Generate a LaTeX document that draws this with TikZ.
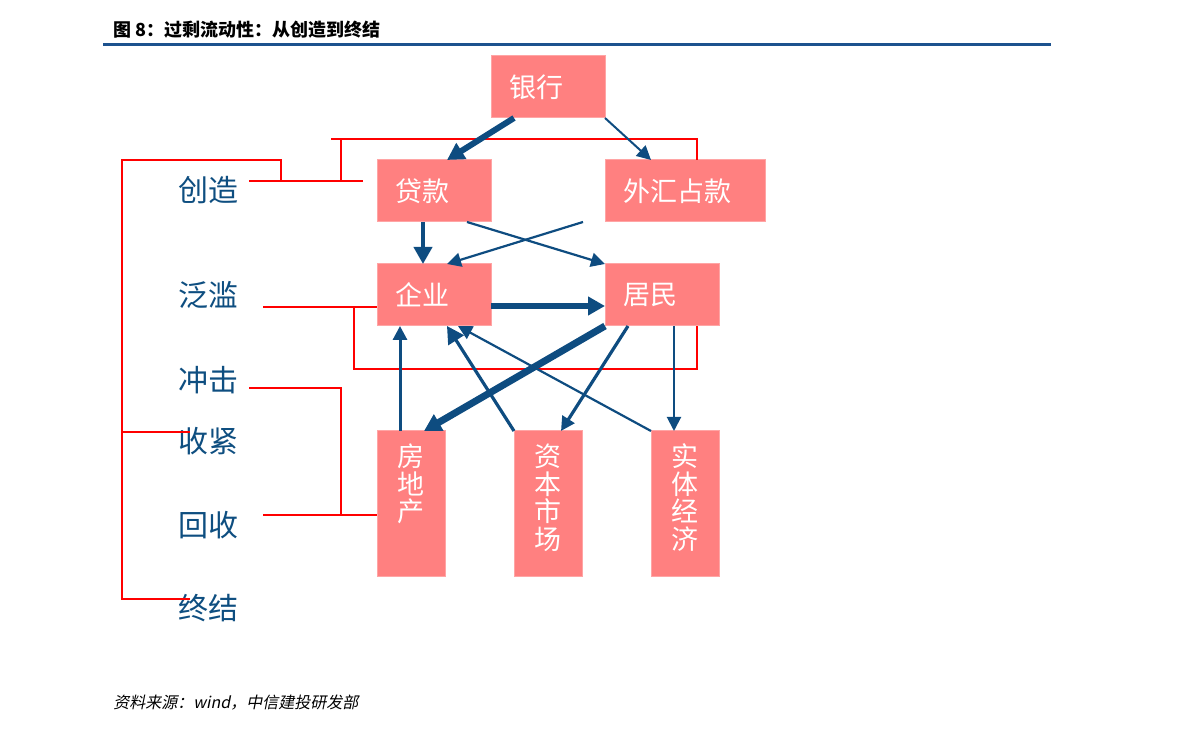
\documentclass[tikz,border=0pt]{standalone}
\usepackage{fontspec}
\setmainfont{Noto Sans CJK SC}
\newfontfamily\notefont[FakeSlant=0.2]{Noto Sans CJK SC}
\usepackage{xcolor}
\usepackage{tikz}
\usetikzlibrary{arrows.meta, positioning}
\definecolor{flowblue}{RGB}{14,76,128}
\definecolor{boxpink}{RGB}{255,128,128}
\definecolor{edgepink}{RGB}{255,165,165}
\definecolor{ruleblue}{RGB}{28,82,142}
\definecolor{stageblue}{RGB}{14,78,128}
\newcommand{\colstack}[1]{\parbox[c][60pt][t]{14pt}{\centering #1}}

\begin{document}
\begin{tikzpicture}[
    x=0.5pt, y=-0.5pt,
    box/.style={rectangle, fill=boxpink, draw=edgepink, line width=0.5pt, outer sep=0pt, text=white, font=\fontsize{13.5}{13.75}\selectfont},
    hbox/.style={box, text width=#1, inner xsep=9pt, inner ysep=0pt, minimum height=31pt, align=left},
    tallbox/.style={box, inner sep=0pt, minimum width=34pt, minimum height=73pt},
    stage/.style={anchor=west, inner sep=0pt, text=stageblue, font=\fontsize{15}{18}\selectfont},
    redline/.style={draw=red, line width=1pt},
    arrow/.style={draw=flowblue, line width=#1, -{Triangle[length=7pt, width=7pt]}},
    heavyarrow/.style={draw=flowblue, line width=#1, -{Triangle[length=8.5pt, width=9pt]}}
]
\useasboundingbox (0,0) rectangle (1191,732);

\node[anchor=west, inner sep=0pt, font=\fontsize{9}{11}\selectfont\bfseries] (title) at (113,30) {图 8：过剩流动性：从创造到终结};
\draw[ruleblue, line width=1.5pt] (103,45) -- (1051,45);

\node[hbox=39pt, anchor=north west] (loan) at (377,160) {贷款};
\node[hbox=62pt, right=57pt of loan] (fx) {外汇占款};
\node[hbox=39pt, above right=21pt and 0pt of loan.north east] (bank) {银行};
\node[hbox=39pt, below=21pt of loan] (firm) {企业};
\node[hbox=39pt, right=57pt of firm] (home) {居民};
\node[tallbox, below right=52.5pt and 0pt of firm.south west] (estate) {\colstack{房\\地\\产}};
\node[tallbox, right=34.5pt of estate] (capital) {\colstack{资\\本\\市\\场}};
\node[tallbox, right=34.5pt of capital] (econ) {\colstack{实\\体\\经\\济}};

\node[stage] (create) at (178,190) {创造};
\node[stage] (flood) at (178,295) {泛滥};
\node[stage] (shock) at (178,380) {冲击};
\node[stage] (tighten) at (178,441) {收紧};
\node[stage] (recover) at (178,525) {回收};
\node[stage] (finish) at (178,608) {终结};

\node[anchor=west, inner sep=0pt, font=\notefont\fontsize{8}{10}\selectfont] (source) at (113,703) {资料来源：wind，中信建投研发部};

\coordinate (createTip) at (249,181);
\coordinate (createJoin) at (281,181);
\coordinate (topbar) at (331,139);
\coordinate (spineTop) at (122,160);
\coordinate (tightenTip) at (190,432);
\coordinate (finishTip) at (190,599);
\coordinate (floodTip) at (263,307);
\coordinate (floodJoin) at (354,307);
\coordinate (shockTip) at (249,388);
\coordinate (shockJoin) at (341,388);
\coordinate (recoverTip) at (263,515);
\coordinate (fxDrop) at ([xshift=-34pt]fx.north east);

\draw[redline] (createTip) -- ([xshift=-7pt]loan.west |- createTip);
\draw[redline] (topbar) -- (topbar -| fxDrop) -- (fxDrop);
\draw[redline] ([xshift=5pt]topbar) -- ([xshift=5pt]topbar |- createTip);
\draw[redline] (createJoin) |- (spineTop) -- (spineTop |- finishTip) -- (finishTip);
\draw[redline] (spineTop |- tightenTip) -- (tightenTip);
\draw[redline] (floodTip) -- (firm.west |- floodTip);
\draw[redline] (floodJoin) -- ++(0,62) -| ([xshift=-11pt]home.south east);
\draw[redline] (shockTip) -- (shockJoin) -- (shockJoin |- recoverTip);
\draw[redline] (recoverTip) -- (estate.west |- recoverTip);

\draw[heavyarrow=3pt] ([xshift=11.5pt]bank.south west) -- ([xshift=-22pt]loan.north east);
\draw[arrow=1pt] (bank.south east) -- ([xshift=23pt]fx.north west);
\draw[heavyarrow=2pt] ([xshift=-5.5pt]loan.south) -- ([xshift=-5.5pt]firm.north);
\draw[arrow=1.1pt] ([xshift=-12pt]loan.south east) -- (home.north west);
\draw[arrow=1.1pt] ([xshift=-11pt]fx.south west) -- ([xshift=-22pt]firm.north east);
\draw[heavyarrow=3pt] ([yshift=-5.5pt]firm.east) -- ([yshift=-5.5pt]home.west);
\draw[heavyarrow=3.5pt] (home.south west) -- ([xshift=23.5pt]estate.north west);
\draw[arrow=1.6pt] ([xshift=11.5pt]home.south west) -- ([xshift=23.5pt]capital.north west);
\draw[arrow=1pt] ([xshift=34.5pt]home.south west) -- ([xshift=11.5pt]econ.north west);
\draw[arrow=1.5pt] ([xshift=11.5pt]estate.north west) -- ([xshift=11.5pt]firm.south west);
\draw[heavyarrow=1.6pt] (capital.north west) -- ([xshift=-22pt]firm.south east);
\draw[arrow=1.1pt] (econ.north west) -- ([xshift=-16.5pt]firm.south east);
\end{tikzpicture}
\end{document}
